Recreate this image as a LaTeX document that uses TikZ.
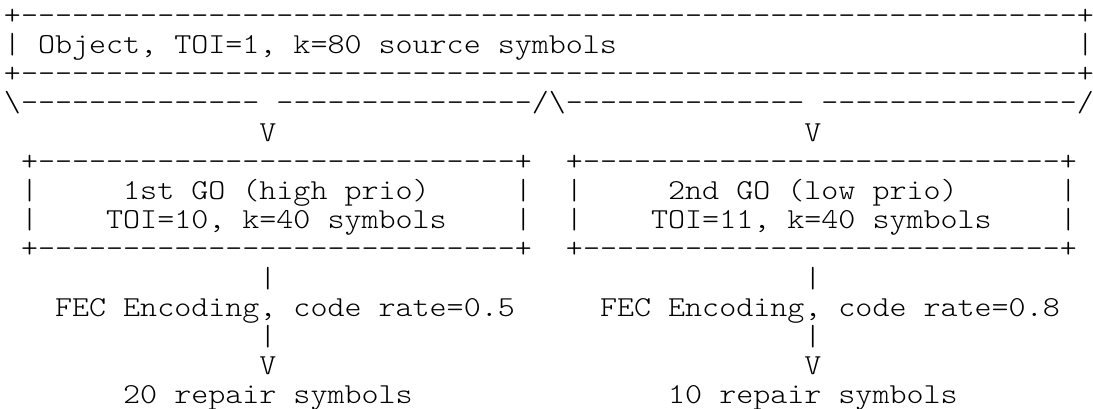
\documentclass[tikz,border=0pt]{standalone}
\usepackage{fontspec}
\setmonofont[FakeStretch=1.12]{lmmonolt10-regular.otf}
\newcount\dcnt
\newcommand\dashrun[1]{\dcnt=#1\relax\loop\ifnum\dcnt>0 \mbox{-}\advance\dcnt by -1 \repeat}
\begin{document}
\begin{tikzpicture}[x=1pt,y=1pt,
  txt/.style={anchor=base west,inner sep=0pt,outer sep=0pt,text=black,
    font=\ttfamily\fontsize{28.96}{29.2}\selectfont}]
\def\xo{4}\def\cw{17.03}\def\yo{384.6}\def\lh{29.2}
\newcommand\cell[4]{\node[txt] (#1) at ({\xo+#2*\cw},{\yo-#3*\lh}) {#4};}
\useasboundingbox (0,0) rectangle (1093,409);
% top object box
\cell{topA}{0}{0}{+\dashrun{62}+}
\cell{objL}{0}{1}{|}
\cell{obj}{2}{1}{Object, TOI=1, k=80 source symbols}
\cell{objR}{63}{1}{|}
\cell{topB}{0}{2}{+\dashrun{62}+}
% brace line
\cell{brA}{0}{3}{\textbackslash\dashrun{14}}
\cell{brB}{16}{3}{\dashrun{15}/\textbackslash\dashrun{14}}
\cell{brC}{48}{3}{\dashrun{15}/}
\cell{vA}{15}{4}{V}
\cell{vB}{47}{4}{V}
% GO boxes
\cell{goAt}{1}{5}{+\dashrun{28}+}
\cell{goBt}{33}{5}{+\dashrun{28}+}
\cell{goAl1}{1}{6}{|}
\cell{goA1}{7}{6}{1st GO (high prio)}
\cell{goAr1}{30}{6}{|}
\cell{goBl1}{33}{6}{|}
\cell{goB1}{39}{6}{2nd GO (low prio)}
\cell{goBr1}{62}{6}{|}
\cell{goAl2}{1}{7}{|}
\cell{goA2}{6}{7}{TOI=10, k=40 symbols}
\cell{goAr2}{30}{7}{|}
\cell{goBl2}{33}{7}{|}
\cell{goB2}{38}{7}{TOI=11, k=40 symbols}
\cell{goBr2}{62}{7}{|}
\cell{goAb}{1}{8}{+\dashrun{28}+}
\cell{goBb}{33}{8}{+\dashrun{28}+}
% encoding
\cell{pA1}{15}{9}{|}
\cell{pB1}{47}{9}{|}
\cell{fecA}{3}{10}{FEC Encoding, code rate=0.5}
\cell{fecB}{35}{10}{FEC Encoding, code rate=0.8}
\cell{pA2}{15}{11}{|}
\cell{pB2}{47}{11}{|}
\cell{vA2}{15}{12}{V}
\cell{vB2}{47}{12}{V}
\cell{repA}{7}{13}{20 repair symbols}
\cell{repB}{39}{13}{10 repair symbols}
\end{tikzpicture}
\end{document}
